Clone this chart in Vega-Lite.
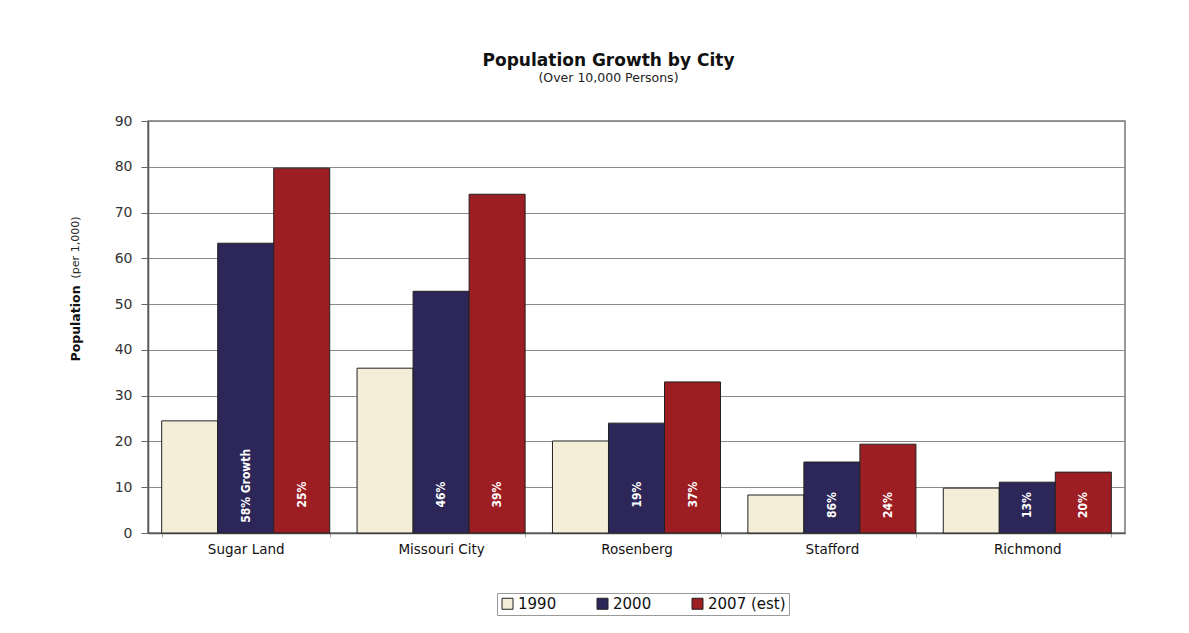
{
  "$schema": "https://vega.github.io/schema/vega-lite/v6.json",
  "autosize": "none",
  "width": 977,
  "height": 412,
  "padding": {"left": 148, "top": 121, "right": 64, "bottom": 100},
  "background": "white",
  "title": {
    "text": "Population Growth by City",
    "subtitle": "(Over 10,000 Persons)",
    "anchor": "middle",
    "dx": -28,
    "offset": 29,
    "font": "DejaVu Sans",
    "fontSize": 17,
    "fontWeight": "bold",
    "color": "#111",
    "subtitleFont": "DejaVu Sans",
    "subtitleFontSize": 12.5,
    "subtitleColor": "#222",
    "subtitlePadding": 2
  },
  "data": {
    "values": [
      {"city": "Sugar Land", "year": "1990", "pop": 24.5, "label": ""},
      {"city": "Sugar Land", "year": "2000", "pop": 63.3, "label": "58% Growth"},
      {"city": "Sugar Land", "year": "2007 (est)", "pop": 79.7, "label": "25%"},
      {"city": "Missouri City", "year": "1990", "pop": 36.0, "label": ""},
      {"city": "Missouri City", "year": "2000", "pop": 52.8, "label": "46%"},
      {"city": "Missouri City", "year": "2007 (est)", "pop": 74.0, "label": "39%"},
      {"city": "Rosenberg", "year": "1990", "pop": 20.1, "label": ""},
      {"city": "Rosenberg", "year": "2000", "pop": 24.0, "label": "19%"},
      {"city": "Rosenberg", "year": "2007 (est)", "pop": 33.0, "label": "37%"},
      {"city": "Stafford", "year": "1990", "pop": 8.3, "label": ""},
      {"city": "Stafford", "year": "2000", "pop": 15.5, "label": "86%"},
      {"city": "Stafford", "year": "2007 (est)", "pop": 19.4, "label": "24%"},
      {"city": "Richmond", "year": "1990", "pop": 9.8, "label": ""},
      {"city": "Richmond", "year": "2000", "pop": 11.1, "label": "13%"},
      {"city": "Richmond", "year": "2007 (est)", "pop": 13.3, "label": "20%"}
    ]
  },
  "encoding": {
    "x": {
      "field": "city",
      "type": "nominal",
      "sort": null,
      "scale": {"paddingInner": 0.14, "paddingOuter": 0.07},
      "axis": {
        "title": null,
        "labelAngle": 0,
        "labelFont": "DejaVu Sans",
        "labelFontSize": 13.5,
        "labelColor": "#111",
        "labelPadding": 5,
        "tickBand": "extent",
        "tickSize": 4,
        "tickColor": "#aaa",
        "domainColor": "#555",
        "domainWidth": 1.5,
        "grid": false
      }
    },
    "xOffset": {"field": "year", "type": "nominal", "scale": {"paddingInner": 0, "paddingOuter": 0}}
  },
  "layer": [
    {
      "mark": {"type": "bar", "stroke": "#222", "strokeWidth": 1},
      "encoding": {
        "y": {
          "field": "pop",
          "type": "quantitative",
          "scale": {"domain": [0, 90], "nice": false},
          "axis": {
            "orient": "left",
            "values": [0, 10, 20, 30, 40, 50, 60, 70, 80, 90],
            "title": "Population",
            "titleFont": "DejaVu Sans",
            "titleFontSize": 12.5,
            "titleFontWeight": "bold",
            "titleColor": "#111",
            "titleAngle": 270,
            "titleX": -73,
            "titleY": 202,
            "titleAlign": "center",
            "titleBaseline": "middle",
            "labelFont": "DejaVu Sans",
            "labelFontSize": 14,
            "labelColor": "#333",
            "labelPadding": 9,
            "tickSize": 7,
            "tickColor": "#666",
            "domainColor": "#555",
            "domainWidth": 1.5,
            "gridColor": "#8a8a8a",
            "gridWidth": 1
          }
        },
        "color": {
          "field": "year",
          "type": "nominal",
          "scale": {"domain": ["1990", "2000", "2007 (est)"], "range": ["#F4EDD8", "#2C2758", "#9C1D22"]},
          "legend": {
            "title": null,
            "orient": "none",
            "legendX": 349,
            "legendY": 472,
            "direction": "horizontal",
            "symbolType": "square",
            "symbolSize": 121,
            "symbolStrokeColor": "#222",
            "symbolStrokeWidth": 1,
            "labelFont": "DejaVu Sans",
            "labelFontSize": 15,
            "labelColor": "#111",
            "labelOffset": 3,
            "columnPadding": 38,
            "strokeColor": "#999",
            "padding": 3
          }
        }
      }
    },
    {
      "transform": [{"filter": "datum.label != '58% Growth' && datum.city != 'Stafford' && datum.city != 'Richmond'"}],
      "mark": {"type": "text", "angle": 270, "color": "white", "font": "DejaVu Sans Condensed", "fontSize": 12, "fontWeight": "bold", "align": "center", "baseline": "middle"},
      "encoding": {
        "y": {
          "datum": 8.4,
          "type": "quantitative",
          "axis": {
            "orient": "left",
            "title": "(per 1,000)",
            "titleFont": "DejaVu Sans",
            "titleFontSize": 11,
            "titleFontWeight": "normal",
            "titleColor": "#222",
            "titleAngle": 270,
            "titleX": -73,
            "titleY": 126,
            "titleAlign": "center",
            "titleBaseline": "middle",
            "labels": false,
            "ticks": false,
            "domain": false,
            "grid": false
          }
        },
        "text": {"field": "label"}
      }
    },
    {
      "transform": [{"filter": "datum.city == 'Stafford' || datum.city == 'Richmond'"}],
      "mark": {"type": "text", "angle": 270, "color": "white", "font": "DejaVu Sans Condensed", "fontSize": 12, "fontWeight": "bold", "align": "center", "baseline": "middle"},
      "encoding": {
        "y": {"datum": 6.1, "type": "quantitative", "axis": null},
        "text": {"field": "label"}
      }
    },
    {
      "transform": [{"filter": "datum.label == '58% Growth'"}],
      "mark": {"type": "text", "angle": 270, "color": "white", "font": "DejaVu Sans Condensed", "fontSize": 12, "fontWeight": "bold", "align": "center", "baseline": "middle"},
      "encoding": {
        "y": {"datum": 10.3, "type": "quantitative", "axis": null},
        "text": {"field": "label"}
      }
    }
  ],
  "resolve": {"axis": {"y": "independent"}},
  "config": {
    "view": {"stroke": "#777", "strokeWidth": 1.5}
  }
}
